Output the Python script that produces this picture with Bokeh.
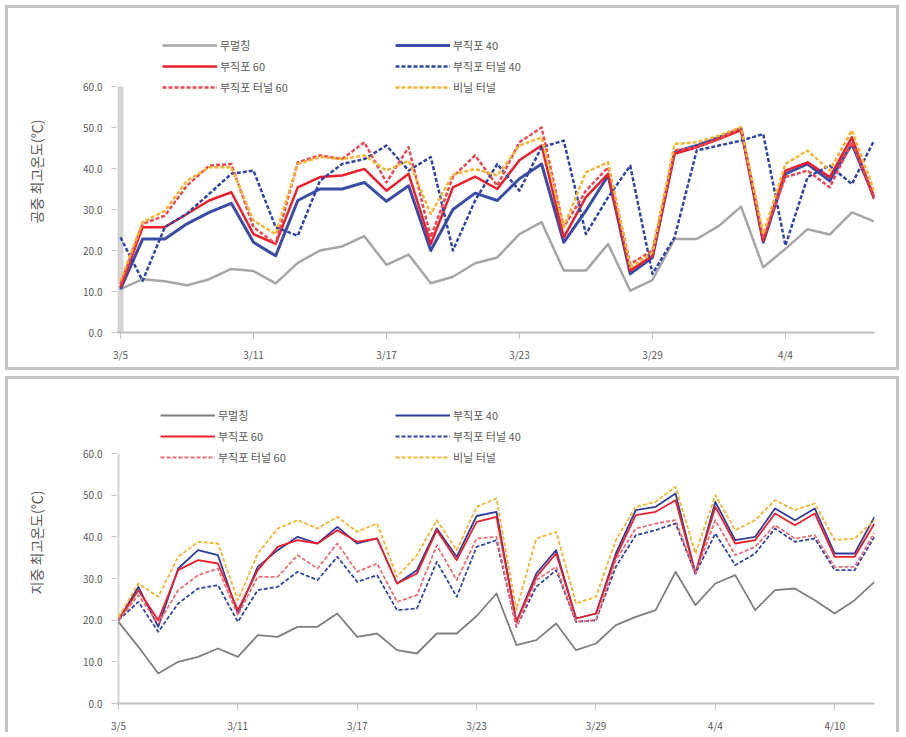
import pandas as pd
from bokeh.plotting import figure
from bokeh.models import (Range1d, FixedTicker, NumeralTickFormatter, Legend,
                          LegendItem)
from bokeh.layouts import column
from bokeh.embed import file_html
from bokeh.resources import INLINE

FONT = "Noto Sans CJK KR"
TXT = "#595959"

# ---------------- data: top chart (3/5 - 4/8) ----------------
dates_top = [f"{d.month}/{d.day}" for d in pd.date_range("2013-03-05", "2013-04-08")]
tick_top = ["3/5", "3/11", "3/17", "3/23", "3/29", "4/4"]

nomulch_top = [10.6, 13.0, 12.5, 11.5, 13.0, 15.5, 15.0, 12.0, 17.0, 20.0, 21.0, 23.5,
               16.5, 19.0, 12.0, 13.6, 16.9, 18.3, 24.0, 26.9, 15.1, 15.1, 21.6, 10.2,
               12.8, 22.8, 22.8, 26.0, 30.7, 15.9, 20.4, 25.2, 23.9, 29.3, 27.1]
nw40_top = [10.6, 22.8, 22.8, 26.5, 29.3, 31.5, 22.0, 18.7, 32.2, 35.0, 35.0, 36.6,
            32.0, 35.8, 20.0, 30.0, 34.0, 32.2, 37.5, 41.1, 22.0, 29.7, 38.3, 14.3,
            18.3, 44.0, 45.6, 47.6, 49.7, 22.0, 38.7, 41.1, 37.0, 46.0, 33.0]
nw60_top = [11.0, 25.7, 25.7, 28.9, 32.2, 34.2, 24.0, 21.6, 35.4, 37.9, 38.3, 39.9,
            34.6, 38.7, 21.6, 35.4, 38.0, 35.0, 42.0, 45.6, 23.2, 33.0, 38.7, 15.1,
            18.7, 43.6, 45.2, 47.2, 49.4, 22.4, 39.5, 41.5, 37.9, 47.6, 32.6]
nwt40_top = [23.2, 12.6, 25.7, 29.0, 33.8, 38.7, 39.5, 25.7, 23.6, 37.0, 41.1, 42.3,
             45.6, 39.5, 42.8, 20.0, 32.2, 41.1, 34.6, 45.2, 46.8, 24.0, 33.0, 40.7,
             14.3, 23.2, 44.4, 45.6, 46.8, 48.4, 21.2, 37.9, 40.7, 36.2, 46.8]
nwt60_top = [11.8, 26.5, 28.5, 35.8, 40.7, 41.1, 25.7, 21.6, 41.5, 43.2, 42.3, 46.4,
             36.6, 45.2, 23.2, 38.0, 43.2, 35.8, 46.4, 50.0, 25.7, 34.6, 40.3, 16.7,
             20.0, 44.4, 45.2, 47.2, 49.9, 23.2, 37.9, 39.5, 35.4, 46.4, 33.4]
vinyl_top = [12.6, 26.9, 29.7, 37.0, 40.3, 40.3, 27.3, 24.0, 41.1, 42.8, 42.3, 43.2,
             39.5, 41.9, 28.9, 38.5, 39.9, 38.3, 45.6, 47.6, 25.7, 39.1, 41.5, 15.9,
             19.5, 46.0, 46.4, 48.0, 50.1, 24.0, 41.1, 44.4, 39.5, 49.3, 34.6]

# ---------------- data: bottom chart (3/5 - 4/12) ----------------
dates_bot = [f"{d.month}/{d.day}" for d in pd.date_range("2013-03-05", "2013-04-12")]
tick_bot = ["3/5", "3/11", "3/17", "3/23", "3/29", "4/4", "4/10"]

nomulch_bot = [19.6, 13.6, 7.2, 10.0, 11.2, 13.2, 11.2, 16.4, 16.0, 18.4, 18.4, 21.6,
               16.0, 16.8, 12.8, 12.0, 16.8, 16.8, 21.0, 26.4, 14.0, 15.2, 19.2, 12.8,
               14.4, 18.8, 20.8, 22.4, 31.6, 23.6, 28.8, 30.8, 22.4, 27.2, 27.6, 24.8,
               21.6, 24.8, 29.2]
nw40_bot = [20.0, 28.0, 18.4, 32.4, 36.8, 35.6, 21.6, 32.8, 36.8, 40.0, 38.4, 42.4,
            38.4, 39.6, 28.8, 32.0, 42.0, 35.2, 45.0, 46.0, 19.6, 31.2, 36.8, 20.4,
            21.6, 36.0, 46.4, 47.2, 50.4, 31.2, 48.4, 39.2, 40.0, 46.8, 44.0, 46.8,
            36.0, 36.0, 44.8]
nw60_bot = [20.0, 27.2, 20.0, 32.0, 34.4, 33.6, 22.4, 32.0, 37.6, 39.2, 38.4, 41.6,
            38.8, 39.6, 28.8, 31.2, 41.6, 34.4, 43.6, 44.8, 19.6, 30.4, 36.0, 20.4,
            21.6, 35.2, 45.2, 46.0, 48.8, 31.2, 47.2, 38.4, 39.2, 45.6, 42.8, 45.6,
            35.2, 35.2, 43.2]
nwt40_bot = [20.0, 24.4, 17.2, 24.0, 27.6, 28.4, 19.6, 27.2, 28.0, 31.6, 29.6, 35.2,
             29.2, 30.8, 22.4, 22.8, 34.0, 25.6, 37.6, 39.2, 18.4, 28.0, 32.0, 19.6,
             20.0, 32.8, 40.4, 41.6, 43.2, 31.2, 40.8, 33.2, 36.0, 42.0, 38.8, 39.6,
             32.0, 32.0, 40.0]
nwt60_bot = [20.0, 26.0, 19.2, 27.2, 30.8, 32.4, 21.2, 30.4, 30.4, 35.6, 32.4, 38.4,
             31.6, 33.6, 24.4, 26.0, 38.0, 29.6, 39.6, 40.0, 18.4, 29.6, 32.8, 19.6,
             20.0, 34.4, 42.0, 43.2, 44.0, 31.2, 44.0, 35.6, 37.6, 42.8, 39.6, 40.4,
             32.8, 32.8, 41.0]
vinyl_bot = [20.8, 28.8, 25.6, 35.2, 38.8, 38.4, 24.8, 36.0, 42.0, 44.0, 42.0, 44.8,
             41.2, 43.2, 30.4, 35.6, 44.0, 36.8, 47.2, 49.2, 22.4, 39.6, 41.2, 24.0,
             25.6, 39.2, 47.2, 48.4, 52.0, 36.0, 50.0, 41.6, 44.0, 48.8, 46.4, 48.0,
             39.2, 39.6, 44.0]

names = ["무멀칭", "부직포 40", "부직포 60", "부직포 터널 40", "부직포 터널 60", "비닐 터널"]
y_ticks = [0, 10, 20, 30, 40, 50, 60]


def make_chart(dates, ticks, series, ytitle, height, mb_left, mb_right, mb_top,
               mb_bottom, xr, ymax, styles, line_style, yaxis_w, leg_pos):
    p = figure(width=894, height=height, output_backend="svg", toolbar_location=None,
               x_range=Range1d(*xr), y_range=Range1d(0, ymax),
               min_border_left=mb_left, min_border_right=mb_right,
               min_border_top=mb_top, min_border_bottom=mb_bottom,
               styles=styles)
    p.outline_line_color = None
    p.xgrid.visible = False
    p.ygrid.visible = False
    x = list(range(len(dates)))
    tick_idx = [dates.index(t) for t in ticks]

    # y axis line drawn only from 0 to 60 (like the original)
    p.segment(x0=[x[0]], y0=[y_ticks[0]], x1=[x[0]], y1=[y_ticks[-1]],
              line_color="#d4d4d4", line_width=yaxis_w)

    renderers = []
    for vals, (color, width, dash) in zip(series, line_style):
        r = p.line(x, vals, line_color=color, line_width=width, line_dash=dash,
                   line_join="round")
        renderers.append(r)

    xa = p.xaxis[0]
    xa.ticker = FixedTicker(ticks=tick_idx)
    xa.major_label_overrides = {i: dates[i] for i in tick_idx}
    xa.minor_tick_line_color = None
    xa.axis_line_color = "#c0c0c0"
    xa.axis_line_width = 2
    xa.major_tick_line_color = "#c0c0c0"
    xa.major_tick_out = 6
    xa.major_tick_in = 0
    xa.major_label_standoff = 8
    xa.major_label_text_font = FONT
    xa.major_label_text_font_size = "10px"
    xa.major_label_text_color = TXT

    ya = p.yaxis[0]
    ya.ticker = FixedTicker(ticks=y_ticks)
    ya.formatter = NumeralTickFormatter(format="0.0")
    ya.minor_tick_line_color = None
    ya.axis_line_color = None
    ya.major_tick_line_color = "#c0c0c0"
    ya.major_tick_out = 5
    ya.major_tick_in = 0
    ya.major_label_standoff = 9
    ya.major_label_text_font = FONT
    ya.major_label_text_font_size = "10px"
    ya.major_label_text_color = TXT
    ya.axis_label = ytitle
    ya.axis_label_text_font = FONT
    ya.axis_label_text_font_size = "14px"
    ya.axis_label_text_font_style = "normal"
    ya.axis_label_text_color = TXT
    ya.axis_label_standoff = 34

    order1 = [0, 2, 4]
    order2 = [1, 3, 5]
    (x1, x2, yb) = leg_pos
    for cols, xloc in ((order1, x1), (order2, x2)):
        leg = Legend(items=[LegendItem(label=names[i], renderers=[renderers[i]]) for i in cols],
                     location=(xloc, yb),
                     orientation="vertical", padding=0, margin=0, spacing=5,
                     glyph_width=55, glyph_height=16, label_height=16,
                     label_standoff=3, label_text_font=FONT,
                     label_text_font_size="11px", label_text_color=TXT,
                     border_line_color=None, background_fill_alpha=0)
        p.add_layout(leg)
    return p


style_top = [("#a6a6a6", 2.5, "solid"), ("#3a4ca8", 3, "solid"), ("#ee1f2b", 2.5, "solid"),
             ("#2f45a8", 2.5, "4 2"), ("#f04652", 2.5, "4 2"), ("#f5b530", 2.5, "4 2")]
style_bot = [("#7f7f7f", 1.8, "solid"), ("#2e3d9c", 1.8, "solid"), ("#ee1f2b", 1.8, "solid"),
             ("#2f45a8", 1.8, "4 2"), ("#f26a72", 1.8, "4 2"), ("#f5b530", 1.8, "4 2")]

series_top = [nomulch_top, nw40_top, nw60_top, nwt40_top, nwt60_top, vinyl_top]
series_bot = [nomulch_bot, nw40_bot, nw60_bot, nwt40_bot, nwt60_bot, vinyl_bot]

p1 = make_chart(dates_top, tick_top, series_top, "공중 최고온도(℃)", 365,
                106, 23, 2, 41, (-0.18, 34.02), 78.54,
                {"border": "3px solid #c4c4c4", "margin-left": "5px", "margin-top": "5px"},
                style_top, 6, (46, 279, 237))
p2 = make_chart(dates_bot, tick_bot, series_bot, "지중 최고온도(℃)", 356,
                108, 28, 2, 32, (-0.1, 38.0), 77.28,
                {"border": "3px solid #c4c4c4", "border-bottom": "none", "margin-left": "5px"},
                style_bot, 2, (44, 279, 238))

layout = column(p1, p2, spacing=6)
open("out.html", "w").write(file_html(layout, INLINE, "chart"))
